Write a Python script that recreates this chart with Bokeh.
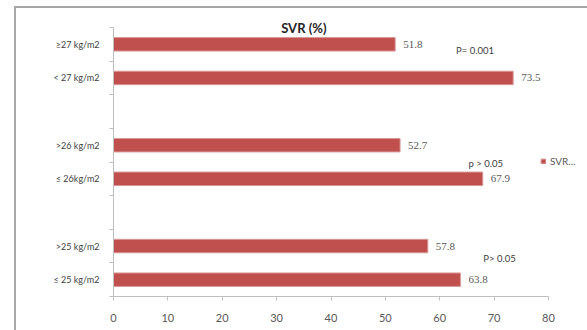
from bokeh.plotting import figure
from bokeh.models import (ColumnDataSource, FixedTicker, Range1d, LabelSet, Label,
                          Legend, LegendItem)
from bokeh.embed import file_html
from bokeh.resources import INLINE

# ---- data (bottom to top) ----
labels = ["≤ 25 kg/m2", ">25 kg/m2", "≤ 26kg/m2", ">26 kg/m2", "< 27 kg/m2", "≥27 kg/m2"]
values = [63.8, 57.8, 67.9, 52.7, 73.5, 51.8]
p_texts = ["P> 0.05", "p > 0.05", "P= 0.001"]
x_ticks = [0, 10, 20, 30, 40, 50, 60, 70, 80]
series_name = "SVR..."
title_text = "SVR (%)"

FONT = "Lato"
RED = "#C0504D"
AXIS = "#BFBFBF"
BORDER = "#A6A6A6"

# slot layout: two bars per group, one blank slot between groups
slots = [i + i // 2 + 0.5 for i in range(len(labels))]
n_slots = len(labels) + len(labels) // 2 - 1
x_max = x_ticks[-1]

# geometry (pixels)
W, H = 587, 330
RM = 5                         # right margin of the frame
BX, BY = 14, 6                 # chart-area border corner
AX_L, AX_R, AX_T, AX_B = 113, 548, 27, 296   # axis extents
px_per_x = (AX_R - AX_L) / x_max
px_per_y = (AX_B - AX_T) / n_slots
x_end = (W - RM - AX_L) / px_per_x
y_end = (AX_B - BY - 2) / px_per_y

src = ColumnDataSource(dict(y=slots, v=values, txt=[f"{v:.1f}" for v in values]))

p = figure(width=W, height=H, output_backend="svg", toolbar_location=None,
           x_range=Range1d(0, x_end), y_range=Range1d(0, y_end),
           min_border_left=AX_L, min_border_right=RM, min_border_top=BY + 2,
           min_border_bottom=H - AX_B)
p.background_fill_alpha = 0
p.border_fill_alpha = 0
p.styles = {
    "background-color": "white",
    "background-image": f"linear-gradient({BORDER},{BORDER}), linear-gradient({BORDER},{BORDER})",
    "background-size": "2px 100%, 100% 2px",
    "background-position": f"{BX}px {BY}px, {BX}px {BY}px",
    "background-repeat": "no-repeat",
}
p.outline_line_color = None
p.xgrid.visible = False
p.ygrid.visible = False

r = p.hbar(y="y", right="v", left=0, height=0.4, source=src,
           fill_color=RED, line_color="#D99694", line_width=1)

p.add_layout(LabelSet(x="v", y="y", text="txt", source=src, x_offset=8,
                      text_baseline="middle", text_font=FONT,
                      text_font_size="11px", text_color="#595959"))

# axes
p.xaxis.bounds = (0, x_max)
p.xaxis.ticker = FixedTicker(ticks=x_ticks)
p.xaxis.axis_line_color = AXIS
p.xaxis.major_tick_line_color = AXIS
p.xaxis.major_tick_out = 4
p.xaxis.major_tick_in = 0
p.xaxis.minor_tick_line_color = None
p.xaxis.major_label_text_font = FONT
p.xaxis.major_label_text_font_size = "11px"
p.xaxis.major_label_text_color = "#595959"
p.xaxis.major_label_standoff = 13

p.yaxis.bounds = (0, n_slots)
p.yaxis.ticker = FixedTicker(ticks=slots, minor_ticks=list(range(n_slots + 1)))
p.yaxis.major_label_overrides = {s: l for s, l in zip(slots, labels)}
p.yaxis.axis_line_color = AXIS
p.yaxis.major_tick_line_color = None
p.yaxis.minor_tick_line_color = AXIS
p.yaxis.minor_tick_out = 4
p.yaxis.minor_tick_in = 0
p.yaxis.major_label_text_font = FONT
p.yaxis.major_label_text_font_size = "9px"
p.yaxis.major_label_text_color = "#404040"
p.yaxis.major_label_standoff = 8

# title
p.add_layout(Label(x=35, y=n_slots, text=title_text, text_align="center",
                   text_baseline="middle", text_font=FONT, text_font_style="bold",
                   text_font_size="13px", text_color="#262626"))

# p-value annotations
p_place = [(68.0, 1.12), (65.3, 3.95), (63.0, 7.32)]
for t, (px, py) in zip(p_texts, p_place):
    p.add_layout(Label(x=px, y=py, text=t, text_baseline="middle", text_font=FONT,
                       text_font_size="9.5px", text_color="#404040"))

# legend
legend = Legend(items=[LegendItem(label=series_name, renderers=[r])],
                location=(427, 129), glyph_width=6, glyph_height=6,
                label_text_font=FONT, label_text_font_size="10px",
                label_text_color="#595959", padding=0, spacing=0, margin=0,
                border_line_color=None, background_fill_alpha=0,
                label_standoff=4)
p.add_layout(legend, "center")

open("out.html", "w").write(file_html(p, INLINE))
